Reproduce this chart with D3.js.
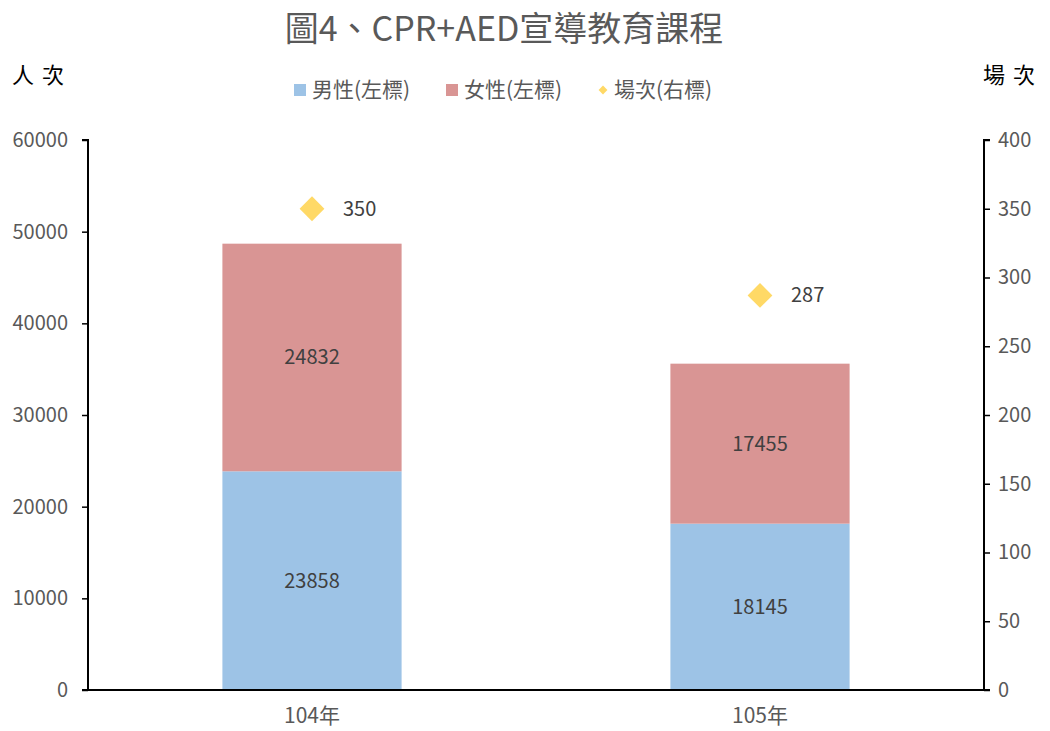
<!DOCTYPE html>
<html>
<head>
<meta charset="utf-8">
<script src="https://cdn.jsdelivr.net/npm/d3@7"></script>
<style>
  body { margin: 0; background: #fff; }
  text { font-family: "Noto Sans CJK TC", "Noto Sans", sans-serif; }
</style>
</head>
<body>
<div id="chart"></div>
<script>
// data
const years = ["104年", "105年"];
const male = [23858, 18145];
const female = [24832, 17455];
const sessions = [350, 287];
const leftTicks = [0, 10000, 20000, 30000, 40000, 50000, 60000];
const rightTicks = [0, 50, 100, 150, 200, 250, 300, 350, 400];

const W = 1050, H = 731;
const colors = { male: "#9DC3E6", female: "#D99594", dot: "#FFD966" };

const svg = d3.select("#chart").append("svg")
  .attr("width", W).attr("height", H);

let plot = { left: 88, right: 984, top: 140, bottom: 690 };

let x = d3.scaleBand().domain(years).range([plot.left, plot.right]).padding(0);
let yL = d3.scaleLinear().domain([0, 60000]).range([plot.bottom, plot.top]);
let yR = d3.scaleLinear().domain([0, 400]).range([plot.bottom, plot.top]);
const barW = x.bandwidth() * 0.4;

// title
svg.append("text").attr("x", 504).attr("y", 41)
  .attr("text-anchor", "middle").attr("fill", "#595959")
  .style("font-size", "34px")
  .text("圖4、CPR+AED宣導教育課程");

// corner unit labels
svg.append("text").attr("x", 12).attr("y", 83).attr("fill", "#000")
  .style("font-size", "22px").style("letter-spacing", "8px")
  .text("人次");
svg.append("text").attr("x", 983).attr("y", 83).attr("fill", "#000")
  .style("font-size", "22px").style("letter-spacing", "8px")
  .text("場次");

// legend
const leg = svg.append("g").style("font-size", "21px");
leg.append("rect").attr("x", 294).attr("y", 84).attr("width", 12).attr("height", 12).attr("fill", colors.male);
leg.append("text").attr("x", 312).attr("y", 97).attr("fill", "#595959").text("男性(左標)");
leg.append("rect").attr("x", 446).attr("y", 84).attr("width", 12).attr("height", 12).attr("fill", colors.female);
leg.append("text").attr("x", 464).attr("y", 97).attr("fill", "#595959").text("女性(左標)");
leg.append("path").attr("transform", "translate(603,90)")
  .attr("d", d3.symbol(d3.symbolDiamond2, 50)).attr("fill", colors.dot);
leg.append("text").attr("x", 614).attr("y", 97).attr("fill", "#595959").text("場次(右標)");

// bars
const g = svg.append("g");
years.forEach((yr, i) => {
  const cx = x(yr) + x.bandwidth() / 2;
  g.append("rect").attr("x", cx - barW / 2).attr("width", barW)
    .attr("y", yL(male[i])).attr("height", yL(0) - yL(male[i]))
    .attr("fill", colors.male);
  g.append("rect").attr("x", cx - barW / 2).attr("width", barW)
    .attr("y", yL(male[i] + female[i])).attr("height", yL(0) - yL(female[i]))
    .attr("fill", colors.female);
  g.append("text").attr("x", cx).attr("y", yL(male[i] / 2)).attr("dy", "0.35em")
    .attr("text-anchor", "middle").attr("fill", "#404040").style("font-size", "20px")
    .text(male[i]);
  g.append("text").attr("x", cx).attr("y", yL(male[i] + female[i] / 2)).attr("dy", "0.35em")
    .attr("text-anchor", "middle").attr("fill", "#404040").style("font-size", "20px")
    .text(female[i]);
  // sessions marker
  g.append("path").attr("transform", `translate(${cx},${yR(sessions[i])})`)
    .attr("d", d3.symbol(d3.symbolDiamond2, 392)).attr("fill", colors.dot);
  g.append("text").attr("x", cx + 31).attr("y", yR(sessions[i])).attr("dy", "0.35em")
    .attr("fill", "#404040").style("font-size", "20px").text(sessions[i]);
});

// axes
const axL = svg.append("g").attr("transform", `translate(${plot.left},0)`)
  .call(d3.axisLeft(yL).tickValues(leftTicks).tickSize(6).tickPadding(14).tickFormat(d3.format("d")));
const axR = svg.append("g").attr("transform", `translate(${plot.right},0)`)
  .call(d3.axisRight(yR).tickValues(rightTicks).tickSize(6).tickPadding(8).tickFormat(d3.format("d")));
const axB = svg.append("g").attr("transform", `translate(0,${plot.bottom})`)
  .call(d3.axisBottom(x).tickSize(0).tickPadding(18));

[axL, axR, axB].forEach(a => {
  a.select(".domain").attr("stroke", "#000").attr("stroke-width", 2);
  a.selectAll(".tick line").attr("stroke", "#000").attr("stroke-width", 1.5);
  a.selectAll("text").attr("fill", "#595959").style("font-size", "20px")
    .style("font-family", '"Noto Sans CJK TC", "Noto Sans", sans-serif');
});
axB.selectAll("text").style("font-size", "21px");
axB.select(".domain").attr("d", `M${plot.left - 6},0H${plot.right + 6}`);
axL.select(".domain").attr("d", `M-6,${plot.top}H0V${plot.bottom}`);
axR.select(".domain").attr("d", `M6,${plot.top}H0V${plot.bottom}`);
</script>
</body>
</html>
